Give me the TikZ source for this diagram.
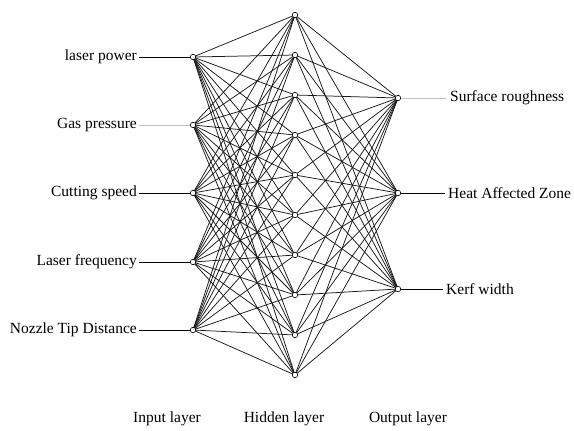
\documentclass[tikz,border=0pt]{standalone}
\usepackage{fontspec}
\setmainfont{Liberation Serif}
\begin{document}
\begin{tikzpicture}[x=1pt,y=-1pt,
  neuron/.style={circle,draw=black,fill=white,inner sep=0pt,minimum size=5.5pt,line width=0.6pt},
  wire/.style={black!90,line width=0.75pt},
  lab/.style={font=\fontsize{15.5}{18}\selectfont,inner sep=0pt},
  lead/.style={line width=1pt,black},
  leadgray/.style={line width=1pt,black!25}]
\useasboundingbox (0,0) rectangle (574,431);
% input nodes
\foreach \i/\y in {1/57,2/125,3/193,4/262,5/330}{
  \coordinate (I\i) at (193,\y);
}
\foreach \j in {1,...,10}{
  \coordinate (H\j) at (295,{15+40*(\j-1)});
}
\foreach \k/\y in {1/98,2/193,3/289}{
  \coordinate (O\k) at (398,\y);
}
\foreach \i in {1,...,5}{\foreach \j in {1,...,10}{\draw[wire] (I\i) -- (H\j);}}
\foreach \j in {1,...,10}{\foreach \k in {1,2,3}{\draw[wire] (H\j) -- (O\k);}}
\foreach \i in {1,...,5}{\node[neuron] (nI\i) at (I\i) {};}
\foreach \j in {1,...,10}{\node[neuron] (nH\j) at (H\j) {};}
\foreach \k in {1,2,3}{\node[neuron] (nO\k) at (O\k) {};}
% input labels
\node[lab,anchor=east] (t1) at (137,57) {laser power};
\node[lab,anchor=east] (t2) at (137,125) {Gas pressure};
\node[lab,anchor=east] (t3) at (137,193) {Cutting speed};
\node[lab,anchor=east] (t4) at (137,262) {Laser frequency};
\node[lab,anchor=east] (t5) at (137,330) {Nozzle Tip Distance};
\draw[lead] ([xshift=2pt]t1.east) -- (nI1.west);
\draw[leadgray] ([xshift=2pt]t2.east) -- (nI2.west);
\draw[lead] ([xshift=2pt]t3.east) -- (nI3.west);
\draw[lead] ([xshift=2pt]t4.east) -- (nI4.west);
\draw[lead] ([xshift=2pt]t5.east) -- (nI5.west);
% output labels
\node[lab,anchor=west] (u1) at (450,98) {Surface roughness};
\node[lab,anchor=west] (u2) at (448,193) {Heat Affected Zone};
\node[lab,anchor=west] (u3) at (446,289) {Kerf width};
\draw[leadgray] (nO1.east) -- ([xshift=-4pt]u1.west);
\draw[lead] (nO2.east) -- ([xshift=-3pt]u2.west);
\draw[lead] (nO3.east) -- ([xshift=-3pt]u3.west);
% layer captions
\node[lab,anchor=base] (c1) at (167,422) {Input layer};
\node[lab,anchor=base] (c2) at (284,422) {Hidden layer};
\node[lab,anchor=base] (c3) at (408,422) {Output layer};
\end{tikzpicture}
\end{document}
